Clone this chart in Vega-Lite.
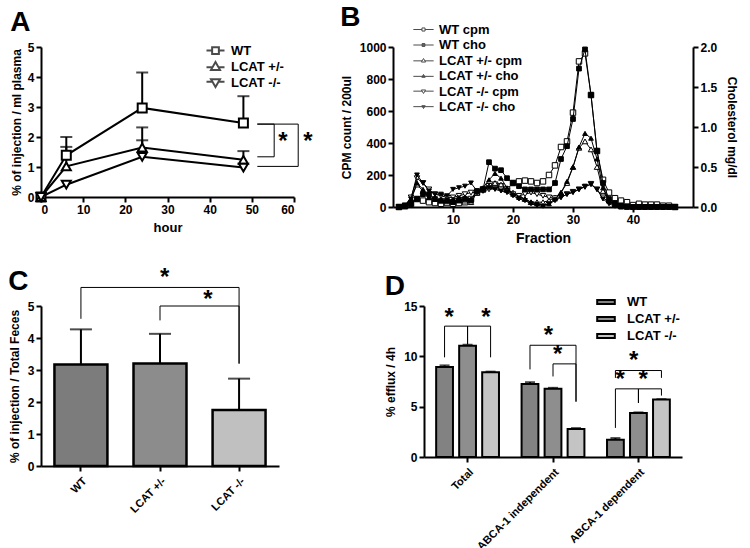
{
"$schema": "https://vega.github.io/schema/vega-lite/v6.json",
"padding": {"left": 8, "top": 4, "right": 5, "bottom": 5},
"config": {
 "view": {"stroke": null},
 "font": "Liberation Sans",
 "axis": {"grid": false, "domainColor": "black", "domainWidth": 2, "tickColor": "black", "tickWidth": 2, "tickSize": 5, "labelFontWeight": "bold", "labelFontSize": 12, "labelColor": "black", "titleFontWeight": "bold", "titleFontSize": 12, "titleColor": "black", "labelPadding": 2},
 "title": {"fontSize": 28, "fontWeight": "bold", "anchor": "start", "frame": "bounds", "color": "black"},
 "legend": {"labelColor": "black"}
},
"resolve": {"scale": {"shape": "independent", "fill": "independent", "color": "independent"}, "legend": {"shape": "independent", "fill": "independent", "color": "independent"}},
"datasets": {
 "a_pts": [
  {"genotype": "WT", "hour": 0, "value": 0, "upper": null},
  {"genotype": "WT", "hour": 6, "value": 1.39, "upper": 2.0},
  {"genotype": "WT", "hour": 24, "value": 2.97, "upper": 4.15},
  {"genotype": "WT", "hour": 48, "value": 2.47, "upper": 3.36},
  {"genotype": "LCAT +/-", "hour": 0, "value": 0, "upper": null},
  {"genotype": "LCAT +/-", "hour": 6, "value": 1.02, "upper": 1.67},
  {"genotype": "LCAT +/-", "hour": 24, "value": 1.65, "upper": 2.32},
  {"genotype": "LCAT +/-", "hour": 48, "value": 1.24, "upper": 1.53},
  {"genotype": "LCAT -/-", "hour": 0, "value": 0, "upper": null},
  {"genotype": "LCAT -/-", "hour": 6, "value": 0.41, "upper": null},
  {"genotype": "LCAT -/-", "hour": 24, "value": 1.34, "upper": 1.89},
  {"genotype": "LCAT -/-", "hour": 48, "value": 0.98, "upper": null}
 ],
 "a_br": [
  {"id": "in", "seq": 1, "hour": 51.3, "value": 2.43},
  {"id": "in", "seq": 2, "hour": 55.3, "value": 2.43},
  {"id": "in", "seq": 3, "hour": 55.3, "value": 1.34},
  {"id": "in", "seq": 4, "hour": 51.3, "value": 1.34},
  {"id": "out", "seq": 1, "hour": 51.3, "value": 2.43},
  {"id": "out", "seq": 2, "hour": 61.0, "value": 2.43},
  {"id": "out", "seq": 3, "hour": 61.0, "value": 1.02},
  {"id": "out", "seq": 4, "hour": 51.3, "value": 1.02}
 ],
 "a_star": [
  {"hour": 57.4, "value": 2.06},
  {"hour": 63.3, "value": 2.06}
 ],
 "b_leg": [
  {"series": "WT cpm"}, {"series": "WT cho"}, {"series": "LCAT +/- cpm"}, {"series": "LCAT +/- cho"}, {"series": "LCAT -/- cpm"}, {"series": "LCAT -/- cho"}
 ],
 "b": [
  {"f": 1, "WT cpm": 0, "WT cho": 0, "LCAT +/- cpm": 0, "LCAT +/- cho": 0, "LCAT -/- cpm": 0, "LCAT -/- cho": 0},
  {"f": 2, "WT cpm": 5, "WT cho": 0.01, "LCAT +/- cpm": 10, "LCAT +/- cho": 0.02, "LCAT -/- cpm": 10, "LCAT -/- cho": 0.02},
  {"f": 3, "WT cpm": 20, "WT cho": 0.04, "LCAT +/- cpm": 50, "LCAT +/- cho": 0.1, "LCAT -/- cpm": 60, "LCAT -/- cho": 0.1},
  {"f": 4, "WT cpm": 50, "WT cho": 0.1, "LCAT +/- cpm": 140, "LCAT +/- cho": 0.3, "LCAT -/- cpm": 180, "LCAT -/- cho": 0.4},
  {"f": 5, "WT cpm": 40, "WT cho": 0.16, "LCAT +/- cpm": 100, "LCAT +/- cho": 0.22, "LCAT -/- cpm": 150, "LCAT -/- cho": 0.3},
  {"f": 6, "WT cpm": 30, "WT cho": 0.16, "LCAT +/- cpm": 60, "LCAT +/- cho": 0.12, "LCAT -/- cpm": 110, "LCAT -/- cho": 0.2},
  {"f": 7, "WT cpm": 25, "WT cho": 0.1, "LCAT +/- cpm": 50, "LCAT +/- cho": 0.1, "LCAT -/- cpm": 80, "LCAT -/- cho": 0.16},
  {"f": 8, "WT cpm": 20, "WT cho": 0.08, "LCAT +/- cpm": 40, "LCAT +/- cho": 0.08, "LCAT -/- cpm": 70, "LCAT -/- cho": 0.16},
  {"f": 9, "WT cpm": 25, "WT cho": 0.08, "LCAT +/- cpm": 35, "LCAT +/- cho": 0.08, "LCAT -/- cpm": 60, "LCAT -/- cho": 0.14},
  {"f": 10, "WT cpm": 20, "WT cho": 0.06, "LCAT +/- cpm": 40, "LCAT +/- cho": 0.1, "LCAT -/- cpm": 60, "LCAT -/- cho": 0.22},
  {"f": 11, "WT cpm": 25, "WT cho": 0.08, "LCAT +/- cpm": 45, "LCAT +/- cho": 0.12, "LCAT -/- cpm": 70, "LCAT -/- cho": 0.24},
  {"f": 12, "WT cpm": 30, "WT cho": 0.1, "LCAT +/- cpm": 40, "LCAT +/- cho": 0.12, "LCAT -/- cpm": 80, "LCAT -/- cho": 0.26},
  {"f": 13, "WT cpm": 50, "WT cho": 0.08, "LCAT +/- cpm": 30, "LCAT +/- cho": 0.1, "LCAT -/- cpm": 90, "LCAT -/- cho": 0.3},
  {"f": 14, "WT cpm": 90, "WT cho": 0.2, "LCAT +/- cpm": 90, "LCAT +/- cho": 0.2, "LCAT -/- cpm": 90, "LCAT -/- cho": 0.2},
  {"f": 15, "WT cpm": 110, "WT cho": 0.22, "LCAT +/- cpm": 110, "LCAT +/- cho": 0.24, "LCAT -/- cpm": 100, "LCAT -/- cho": 0.22},
  {"f": 16, "WT cpm": 130, "WT cho": 0.56, "LCAT +/- cpm": 130, "LCAT +/- cho": 0.34, "LCAT -/- cpm": 110, "LCAT -/- cho": 0.24},
  {"f": 17, "WT cpm": 140, "WT cho": 0.48, "LCAT +/- cpm": 150, "LCAT +/- cho": 0.42, "LCAT -/- cpm": 115, "LCAT -/- cho": 0.22},
  {"f": 18, "WT cpm": 130, "WT cho": 0.46, "LCAT +/- cpm": 140, "LCAT +/- cho": 0.36, "LCAT -/- cpm": 110, "LCAT -/- cho": 0.2},
  {"f": 19, "WT cpm": 110, "WT cho": 0.36, "LCAT +/- cpm": 110, "LCAT +/- cho": 0.24, "LCAT -/- cpm": 100, "LCAT -/- cho": 0.18},
  {"f": 20, "WT cpm": 150, "WT cho": 0.3, "LCAT +/- cpm": 90, "LCAT +/- cho": 0.16, "LCAT -/- cpm": 80, "LCAT -/- cho": 0.14},
  {"f": 21, "WT cpm": 160, "WT cho": 0.26, "LCAT +/- cpm": 70, "LCAT +/- cho": 0.12, "LCAT -/- cpm": 70, "LCAT -/- cho": 0.1},
  {"f": 22, "WT cpm": 165, "WT cho": 0.22, "LCAT +/- cpm": 50, "LCAT +/- cho": 0.1, "LCAT -/- cpm": 80, "LCAT -/- cho": 0.08},
  {"f": 23, "WT cpm": 160, "WT cho": 0.22, "LCAT +/- cpm": 30, "LCAT +/- cho": 0.06, "LCAT -/- cpm": 90, "LCAT -/- cho": 0.04},
  {"f": 24, "WT cpm": 150, "WT cho": 0.22, "LCAT +/- cpm": 30, "LCAT +/- cho": 0.04, "LCAT -/- cpm": 80, "LCAT -/- cho": 0.02},
  {"f": 25, "WT cpm": 160, "WT cho": 0.22, "LCAT +/- cpm": 30, "LCAT +/- cho": 0.02, "LCAT -/- cpm": 70, "LCAT -/- cho": 0.01},
  {"f": 26, "WT cpm": 200, "WT cho": 0.22, "LCAT +/- cpm": 40, "LCAT +/- cho": 0.04, "LCAT -/- cpm": 60, "LCAT -/- cho": 0.04},
  {"f": 27, "WT cpm": 260, "WT cho": 0.3, "LCAT +/- cpm": 60, "LCAT +/- cho": 0.1, "LCAT -/- cpm": 55, "LCAT -/- cho": 0.08},
  {"f": 28, "WT cpm": 375, "WT cho": 0.6, "LCAT +/- cpm": 90, "LCAT +/- cho": 0.18, "LCAT -/- cpm": 60, "LCAT -/- cho": 0.12},
  {"f": 29, "WT cpm": 410, "WT cho": 0.76, "LCAT +/- cpm": 150, "LCAT +/- cho": 0.32, "LCAT -/- cpm": 80, "LCAT -/- cho": 0.16},
  {"f": 30, "WT cpm": 590, "WT cho": 1.1, "LCAT +/- cpm": 250, "LCAT +/- cho": 0.5, "LCAT -/- cpm": 95, "LCAT -/- cho": 0.18},
  {"f": 31, "WT cpm": 910, "WT cho": 1.73, "LCAT +/- cpm": 370, "LCAT +/- cho": 0.75, "LCAT -/- cpm": 110, "LCAT -/- cho": 0.22},
  {"f": 32, "WT cpm": 960, "WT cho": 1.97, "LCAT +/- cpm": 410, "LCAT +/- cho": 0.92, "LCAT -/- cpm": 125, "LCAT -/- cho": 0.26},
  {"f": 33, "WT cpm": 700, "WT cho": 1.4, "LCAT +/- cpm": 360, "LCAT +/- cho": 0.86, "LCAT -/- cpm": 145, "LCAT -/- cho": 0.28},
  {"f": 34, "WT cpm": 350, "WT cho": 0.7, "LCAT +/- cpm": 250, "LCAT +/- cho": 0.6, "LCAT -/- cpm": 110, "LCAT -/- cho": 0.22},
  {"f": 35, "WT cpm": 170, "WT cho": 0.3, "LCAT +/- cpm": 100, "LCAT +/- cho": 0.24, "LCAT -/- cpm": 60, "LCAT -/- cho": 0.1},
  {"f": 36, "WT cpm": 90, "WT cho": 0.1, "LCAT +/- cpm": 40, "LCAT +/- cho": 0.08, "LCAT -/- cpm": 30, "LCAT -/- cho": 0.04},
  {"f": 37, "WT cpm": 55, "WT cho": 0.05, "LCAT +/- cpm": 15, "LCAT +/- cho": 0.03, "LCAT -/- cpm": 12, "LCAT -/- cho": 0.01},
  {"f": 38, "WT cpm": 40, "WT cho": 0.02, "LCAT +/- cpm": 5, "LCAT +/- cho": 0, "LCAT -/- cpm": 5, "LCAT -/- cho": 0},
  {"f": 39, "WT cpm": 30, "WT cho": 0.01, "LCAT +/- cpm": 0, "LCAT +/- cho": 0, "LCAT -/- cpm": 0, "LCAT -/- cho": 0},
  {"f": 40, "WT cpm": 12, "WT cho": 0, "LCAT +/- cpm": 0, "LCAT +/- cho": 0, "LCAT -/- cpm": 0, "LCAT -/- cho": 0},
  {"f": 41, "WT cpm": 20, "WT cho": 0, "LCAT +/- cpm": 0, "LCAT +/- cho": 0, "LCAT -/- cpm": 0, "LCAT -/- cho": 0},
  {"f": 42, "WT cpm": 15, "WT cho": 0, "LCAT +/- cpm": 0, "LCAT +/- cho": 0, "LCAT -/- cpm": 0, "LCAT -/- cho": 0},
  {"f": 43, "WT cpm": 15, "WT cho": 0, "LCAT +/- cpm": 0, "LCAT +/- cho": 0, "LCAT -/- cpm": 0, "LCAT -/- cho": 0},
  {"f": 44, "WT cpm": 15, "WT cho": 0, "LCAT +/- cpm": 0, "LCAT +/- cho": 0, "LCAT -/- cpm": 0, "LCAT -/- cho": 0},
  {"f": 45, "WT cpm": 8, "WT cho": 0, "LCAT +/- cpm": 0, "LCAT +/- cho": 0, "LCAT -/- cpm": 0, "LCAT -/- cho": 0},
  {"f": 46, "WT cpm": 8, "WT cho": 0, "LCAT +/- cpm": 0, "LCAT +/- cho": 0, "LCAT -/- cpm": 0, "LCAT -/- cho": 0},
  {"f": 47, "WT cpm": 0, "WT cho": 0, "LCAT +/- cpm": 0, "LCAT +/- cho": 0, "LCAT -/- cpm": 0, "LCAT -/- cho": 0}
 ],
 "c": [
  {"g": "WT", "v": 3.17, "u": 4.27},
  {"g": "LCAT +/-", "v": 3.2, "u": 4.13},
  {"g": "LCAT -/-", "v": 1.75, "u": 2.73}
 ],
 "c_br": [
  {"id": "b1", "seq": 1, "g": "WT", "v": 4.6},
  {"id": "b1", "seq": 2, "g": "WT", "v": 5.58},
  {"id": "b1", "seq": 3, "g": "LCAT -/-", "v": 5.58},
  {"id": "b1", "seq": 4, "g": "LCAT -/-", "v": 3.2},
  {"id": "b2", "seq": 1, "g": "LCAT +/-", "v": 4.55},
  {"id": "b2", "seq": 2, "g": "LCAT +/-", "v": 5.0},
  {"id": "b2", "seq": 3, "g": "LCAT -/-", "v": 5.0},
  {"id": "b2", "seq": 4, "g": "LCAT -/-", "v": 3.2}
 ],
 "d": [
  {"cat": "Total", "geno": "WT", "v": 8.93, "u": 9.1},
  {"cat": "Total", "geno": "LCAT +/-", "v": 11.05, "u": 11.15},
  {"cat": "Total", "geno": "LCAT -/-", "v": 8.43, "u": 8.48},
  {"cat": "ABCA-1 independent", "geno": "WT", "v": 7.25, "u": 7.43},
  {"cat": "ABCA-1 independent", "geno": "LCAT +/-", "v": 6.77, "u": 6.87},
  {"cat": "ABCA-1 independent", "geno": "LCAT -/-", "v": 2.77, "u": 2.87},
  {"cat": "ABCA-1 dependent", "geno": "WT", "v": 1.72, "u": 1.88},
  {"cat": "ABCA-1 dependent", "geno": "LCAT +/-", "v": 4.36, "u": 4.43},
  {"cat": "ABCA-1 dependent", "geno": "LCAT -/-", "v": 5.7, "u": 5.74}
 ],
 "d_br": [
  {"id": "t1", "seq": 1, "cat": "Total", "geno": "WT", "v": 9.9},
  {"id": "t1", "seq": 2, "cat": "Total", "geno": "WT", "v": 13.0},
  {"id": "t1", "seq": 3, "cat": "Total", "geno": "LCAT +/-", "v": 13.0},
  {"id": "t1", "seq": 4, "cat": "Total", "geno": "LCAT +/-", "v": 11.2},
  {"id": "t2", "seq": 1, "cat": "Total", "geno": "LCAT +/-", "v": 11.2},
  {"id": "t2", "seq": 2, "cat": "Total", "geno": "LCAT +/-", "v": 13.0},
  {"id": "t2", "seq": 3, "cat": "Total", "geno": "LCAT -/-", "v": 13.0},
  {"id": "t2", "seq": 4, "cat": "Total", "geno": "LCAT -/-", "v": 9.9},
  {"id": "i1", "seq": 1, "cat": "ABCA-1 independent", "geno": "WT", "v": 8.7},
  {"id": "i1", "seq": 2, "cat": "ABCA-1 independent", "geno": "WT", "v": 11.1},
  {"id": "i1", "seq": 3, "cat": "ABCA-1 independent", "geno": "LCAT -/-", "v": 11.1},
  {"id": "i1", "seq": 4, "cat": "ABCA-1 independent", "geno": "LCAT -/-", "v": 5.5},
  {"id": "i2", "seq": 1, "cat": "ABCA-1 independent", "geno": "LCAT +/-", "v": 8.0},
  {"id": "i2", "seq": 2, "cat": "ABCA-1 independent", "geno": "LCAT +/-", "v": 9.25},
  {"id": "i2", "seq": 3, "cat": "ABCA-1 independent", "geno": "LCAT -/-", "v": 9.25},
  {"id": "i2", "seq": 4, "cat": "ABCA-1 independent", "geno": "LCAT -/-", "v": 5.5},
  {"id": "d0", "seq": 1, "cat": "ABCA-1 dependent", "geno": "WT", "v": 7.86},
  {"id": "d0", "seq": 2, "cat": "ABCA-1 dependent", "geno": "WT", "v": 8.59},
  {"id": "d0", "seq": 3, "cat": "ABCA-1 dependent", "geno": "LCAT -/-", "v": 8.59},
  {"id": "d0", "seq": 4, "cat": "ABCA-1 dependent", "geno": "LCAT -/-", "v": 7.86},
  {"id": "d1", "seq": 1, "cat": "ABCA-1 dependent", "geno": "WT", "v": 2.89},
  {"id": "d1", "seq": 2, "cat": "ABCA-1 dependent", "geno": "WT", "v": 6.77},
  {"id": "d1", "seq": 3, "cat": "ABCA-1 dependent", "geno": "LCAT +/-", "v": 6.77},
  {"id": "d1", "seq": 4, "cat": "ABCA-1 dependent", "geno": "LCAT +/-", "v": 5.37},
  {"id": "d2", "seq": 1, "cat": "ABCA-1 dependent", "geno": "LCAT +/-", "v": 5.37},
  {"id": "d2", "seq": 2, "cat": "ABCA-1 dependent", "geno": "LCAT +/-", "v": 6.77},
  {"id": "d2", "seq": 3, "cat": "ABCA-1 dependent", "geno": "LCAT -/-", "v": 6.77},
  {"id": "d2", "seq": 4, "cat": "ABCA-1 dependent", "geno": "LCAT -/-", "v": 6.1}
 ],
 "d_star_l": [
  {"cat": "Total", "geno": "WT", "v": 14.55},
  {"cat": "ABCA-1 independent", "geno": "LCAT +/-", "v": 10.85},
  {"cat": "ABCA-1 dependent", "geno": "WT", "v": 8.36},
  {"cat": "ABCA-1 dependent", "geno": "LCAT +/-", "v": 8.36}
 ],
 "d_star_r": [
  {"cat": "Total", "geno": "LCAT -/-", "v": 14.55},
  {"cat": "ABCA-1 independent", "geno": "LCAT +/-", "v": 12.67},
  {"cat": "ABCA-1 dependent", "geno": "LCAT +/-", "v": 10.25}
 ]
},
"vconcat": [
 {"hconcat": [
  {
   "title": {"text": "A", "offset": 4},
   "width": 253, "height": 150,
   "encoding": {
    "x": {"field": "hour", "type": "quantitative", "scale": {"domain": [0, 60], "nice": false}, "axis": {"title": "hour", "values": [0, 10, 20, 30, 40, 50, 60], "titleFontSize": 13, "titlePadding": 6}},
    "y": {"field": "value", "type": "quantitative", "scale": {"domain": [0, 5], "nice": false}, "axis": {"title": "% of injection / ml plasma", "values": [0, 1, 2, 3, 4, 5], "titlePadding": 4}}
   },
   "layer": [
    {"data": {"name": "a_pts"}, "mark": {"type": "line", "color": "black", "strokeWidth": 2}, "encoding": {"detail": {"field": "genotype"}}},
    {"data": {"name": "a_pts"}, "transform": [{"filter": "isValid(datum.upper)"}], "mark": {"type": "rule", "color": "black", "strokeWidth": 2}, "encoding": {"y2": {"field": "upper"}}},
    {"data": {"name": "a_pts"}, "transform": [{"filter": "isValid(datum.upper)"}], "mark": {"type": "tick", "color": "black", "thickness": 2, "size": 12, "orient": "horizontal"}, "encoding": {"y": {"field": "upper", "type": "quantitative"}}},
    {"data": {"name": "a_pts"}, "mark": {"type": "point", "filled": true, "fill": "white", "stroke": "black", "strokeWidth": 2, "size": 81, "opacity": 1},
     "encoding": {"shape": {"field": "genotype", "type": "nominal", "scale": {"domain": ["WT", "LCAT +/-", "LCAT -/-"], "range": ["square", "triangle-up", "triangle-down"]}, "legend": null}}},
    {"data": {"name": "a_pts"}, "mark": {"type": "point", "color": "black", "strokeWidth": 2, "size": 0},
     "encoding": {"shape": {"field": "genotype", "type": "nominal", "scale": {"domain": ["WT", "LCAT +/-", "LCAT -/-"], "range": ["M-1.2,0H-0.45M0.45,0H1.2M-0.45,-0.45H0.45V0.45H-0.45Z", "M-1.2,0.1H-0.4M0.4,0.1H1.2M0,-0.6L0.6,0.45H-0.6Z", "M-1.2,-0.1H-0.4M0.4,-0.1H1.2M0,0.6L0.6,-0.45H-0.6Z"]},
      "legend": {"orient": "none", "legendX": 166, "legendY": -5, "title": null, "labelFontSize": 13, "labelFontWeight": "bold", "symbolSize": 225, "symbolStrokeWidth": 2, "rowPadding": 0, "labelOffset": 7}}}},
    {"data": {"name": "a_br"}, "mark": {"type": "line", "color": "black", "strokeWidth": 1}, "encoding": {"detail": {"field": "id"}, "order": {"field": "seq", "type": "quantitative"}}},
    {"data": {"name": "a_star"}, "mark": {"type": "text", "text": "*", "fontSize": 24, "fontWeight": "bold", "baseline": "middle", "dy": 7, "color": "black"}}
   ],
   "resolve": {"scale": {"shape": "independent"}}
  },
  {
   "title": {"text": "B", "offset": -10},
   "width": 300, "height": 160,
   "layer": [
    {
     "data": {"name": "b"},
     "transform": [{"fold": ["WT cpm", "LCAT +/- cpm", "LCAT -/- cpm"], "as": ["key", "val"]}],
     "encoding": {
      "x": {"field": "f", "type": "quantitative", "scale": {"domain": [0, 50], "nice": false}, "axis": {"title": "Fraction", "values": [10, 20, 30, 40], "titleFontSize": 14, "titlePadding": 6}},
      "y": {"field": "val", "type": "quantitative", "scale": {"domain": [0, 1000], "nice": false}, "axis": {"title": "CPM count / 200ul", "values": [0, 200, 400, 600, 800, 1000], "format": "d", "titlePadding": 6}}
     },
     "layer": [
      {"mark": {"type": "line", "color": "black", "strokeWidth": 1}, "encoding": {"detail": {"field": "key"}}},
      {"mark": {"type": "point", "filled": true, "fill": "white", "stroke": "black", "strokeWidth": 1, "size": 30, "opacity": 1},
       "encoding": {
        "shape": {"field": "key", "type": "nominal", "scale": {"domain": ["WT cpm", "LCAT +/- cpm", "LCAT -/- cpm"], "range": ["square", "triangle-up", "triangle-down"]}, "legend": null}
       }}
     ]
    },
    {
     "data": {"name": "b"},
     "transform": [{"fold": ["WT cho", "LCAT +/- cho", "LCAT -/- cho"], "as": ["key", "val"]}],
     "encoding": {
      "x": {"field": "f", "type": "quantitative"},
      "y": {"field": "val", "type": "quantitative", "scale": {"domain": [0, 2], "nice": false}, "axis": {"orient": "right", "title": "Cholesterol mg/dl", "values": [0, 0.5, 1, 1.5, 2], "format": ".1f", "titlePadding": 8}}
     },
     "layer": [
      {"mark": {"type": "line", "color": "black", "strokeWidth": 1}, "encoding": {"detail": {"field": "key"}}},
      {"mark": {"type": "point", "filled": true, "fill": "black", "stroke": "black", "strokeWidth": 1, "size": 22, "opacity": 1},
       "encoding": {
        "shape": {"field": "key", "type": "nominal", "scale": {"domain": ["WT cho", "LCAT +/- cho", "LCAT -/- cho"], "range": ["square", "triangle-up", "triangle-down"]}, "legend": null}
       }}
     ]
    },
    {
     "data": {"name": "b_leg"},
     "mark": {"type": "point", "stroke": "black", "strokeWidth": 1, "size": 0},
     "encoding": {
      "shape": {"field": "series", "type": "nominal", "scale": {"domain": ["WT cpm", "WT cho", "LCAT +/- cpm", "LCAT +/- cho", "LCAT -/- cpm", "LCAT -/- cho"], "range": ["M-1.45,0H-0.22M0.22,0H1.45M-0.22,-0.22H0.22V0.22H-0.22Z", "M-1.45,0H1.45M-0.2,-0.2H0.2V0.2H-0.2Z", "M-1.45,0.05H-0.2M0.2,0.05H1.45M0,-0.28L0.3,0.22H-0.3Z", "M-1.45,0.05H1.45M0,-0.22L0.24,0.18H-0.24Z", "M-1.45,-0.05H-0.2M0.2,-0.05H1.45M0,0.28L0.3,-0.22H-0.3Z", "M-1.45,-0.05H1.45M0,0.22L0.24,-0.18H-0.24Z"]},
       "legend": {"orient": "none", "legendX": 23, "legendY": -25, "title": null, "labelFontSize": 13, "labelFontWeight": "bold", "symbolSize": 196, "symbolStrokeWidth": 1, "rowPadding": 0.5, "labelOffset": 8}},
      "fill": {"field": "series", "type": "nominal", "scale": {"domain": ["WT cpm", "WT cho", "LCAT +/- cpm", "LCAT +/- cho", "LCAT -/- cpm", "LCAT -/- cho"], "range": ["white", "black", "white", "black", "white", "black"]},
       "legend": {"orient": "none", "legendX": 23, "legendY": -25, "title": null, "labelFontSize": 13, "labelFontWeight": "bold", "symbolSize": 196, "symbolStrokeWidth": 1, "rowPadding": 0.5, "labelOffset": 8}}
     }
    }
   ],
   "resolve": {"scale": {"y": "independent", "shape": "independent", "fill": "independent"}}
  }
 ], "spacing": 27, "resolve": {"scale": {"shape": "independent", "fill": "independent", "color": "independent"}, "legend": {"shape": "independent", "fill": "independent", "color": "independent"}}},
 {"hconcat": [
  {
   "title": {"text": "C", "offset": -30},
   "width": 238, "height": 160,
   "encoding": {
    "x": {"field": "g", "type": "nominal", "sort": ["WT", "LCAT +/-", "LCAT -/-"], "scale": {"paddingInner": 0.33, "paddingOuter": 0.17}, "axis": {"title": null, "labelAngle": -45, "labelFontSize": 11, "labelPadding": 4}},
    "y": {"field": "v", "type": "quantitative", "scale": {"domain": [0, 5], "nice": false}, "axis": {"title": "% of injection / Total Feces", "values": [0, 1, 2, 3, 4, 5], "titlePadding": 6}}
   },
   "layer": [
    {"data": {"name": "c"}, "mark": {"type": "rule", "color": "black", "strokeWidth": 2}, "encoding": {"y2": {"field": "u"}}},
    {"data": {"name": "c"}, "mark": {"type": "tick", "color": "black", "thickness": 2, "size": 22, "orient": "horizontal"}, "encoding": {"y": {"field": "u", "type": "quantitative"}}},
    {"data": {"name": "c"}, "mark": {"type": "bar", "stroke": "black", "strokeWidth": 2.5}, "encoding": {"color": {"field": "g", "type": "nominal", "scale": {"domain": ["WT", "LCAT +/-", "LCAT -/-"], "range": ["#7c7c7c", "#8c8c8c", "#c0c0c0"]}, "legend": null}}},
    {"data": {"name": "c_br"}, "mark": {"type": "line", "color": "black", "strokeWidth": 1}, "encoding": {"detail": {"field": "id"}, "order": {"field": "seq", "type": "quantitative"}}},
    {"data": {"values": [{"g": "LCAT +/-", "v": 6.1}]}, "mark": {"type": "text", "text": "*", "fontSize": 24, "fontWeight": "bold", "baseline": "middle", "dy": 7, "align": "left", "color": "black"}},
    {"data": {"values": [{"g": "LCAT -/-", "v": 5.4}]}, "mark": {"type": "text", "text": "*", "fontSize": 24, "fontWeight": "bold", "baseline": "middle", "dy": 7, "align": "right", "color": "black"}, "encoding": {"x": {"field": "g", "type": "nominal", "sort": ["WT", "LCAT +/-", "LCAT -/-"], "bandPosition": 0}}}
   ]
  },
  {
   "title": {"text": "D", "offset": -8},
   "width": 258, "height": 151,
   "encoding": {
    "x": {"field": "cat", "type": "nominal", "sort": ["Total", "ABCA-1 independent", "ABCA-1 dependent"], "scale": {"paddingInner": 0.2, "paddingOuter": 0.11}, "axis": {"title": null, "labelAngle": -45, "labelFontSize": 11, "labelPadding": 4}},
    "xOffset": {"field": "geno", "type": "nominal", "sort": ["WT", "LCAT +/-", "LCAT -/-"], "scale": {"paddingInner": 0.27, "paddingOuter": 0.12}},
    "y": {"field": "v", "type": "quantitative", "scale": {"domain": [0, 15], "nice": false}, "axis": {"title": "% efflux / 4h", "values": [0, 5, 10, 15], "titlePadding": 6}}
   },
   "layer": [
    {"data": {"name": "d"}, "mark": {"type": "rule", "color": "black", "strokeWidth": 2}, "encoding": {"y2": {"field": "u"}}},
    {"data": {"name": "d"}, "mark": {"type": "tick", "color": "black", "thickness": 2, "size": 10, "orient": "horizontal"}, "encoding": {"y": {"field": "u", "type": "quantitative"}}},
    {"data": {"name": "d"}, "mark": {"type": "bar", "stroke": "black", "strokeWidth": 2}, "encoding": {"color": {"field": "geno", "type": "nominal", "scale": {"domain": ["WT", "LCAT +/-", "LCAT -/-"], "range": ["#828282", "#8e8e8e", "#c4c4c4"]},
      "legend": {"orient": "none", "legendX": 173, "legendY": -13, "title": null, "symbolType": "M-1.1,-0.25H1.1V0.25H-1.1Z", "symbolSize": 256, "symbolStrokeColor": "black", "symbolStrokeWidth": 2, "symbolOpacity": 1, "labelFontSize": 13, "labelFontWeight": "bold", "rowPadding": 1, "labelOffset": 12}}}},
    {"data": {"name": "d_br"}, "mark": {"type": "line", "color": "black", "strokeWidth": 1}, "encoding": {"detail": {"field": "id"}, "order": {"field": "seq", "type": "quantitative"}}},
    {"data": {"name": "d_star_l"}, "mark": {"type": "text", "text": "*", "fontSize": 24, "fontWeight": "bold", "baseline": "middle", "dy": 7, "align": "left", "color": "black"}},
    {"data": {"name": "d_star_r"}, "mark": {"type": "text", "text": "*", "fontSize": 24, "fontWeight": "bold", "baseline": "middle", "dy": 7, "align": "right", "color": "black"}}
   ]
  }
 ], "spacing": 105, "resolve": {"scale": {"shape": "independent", "fill": "independent", "color": "independent"}, "legend": {"shape": "independent", "fill": "independent", "color": "independent"}}}
],
"spacing": 20
}
